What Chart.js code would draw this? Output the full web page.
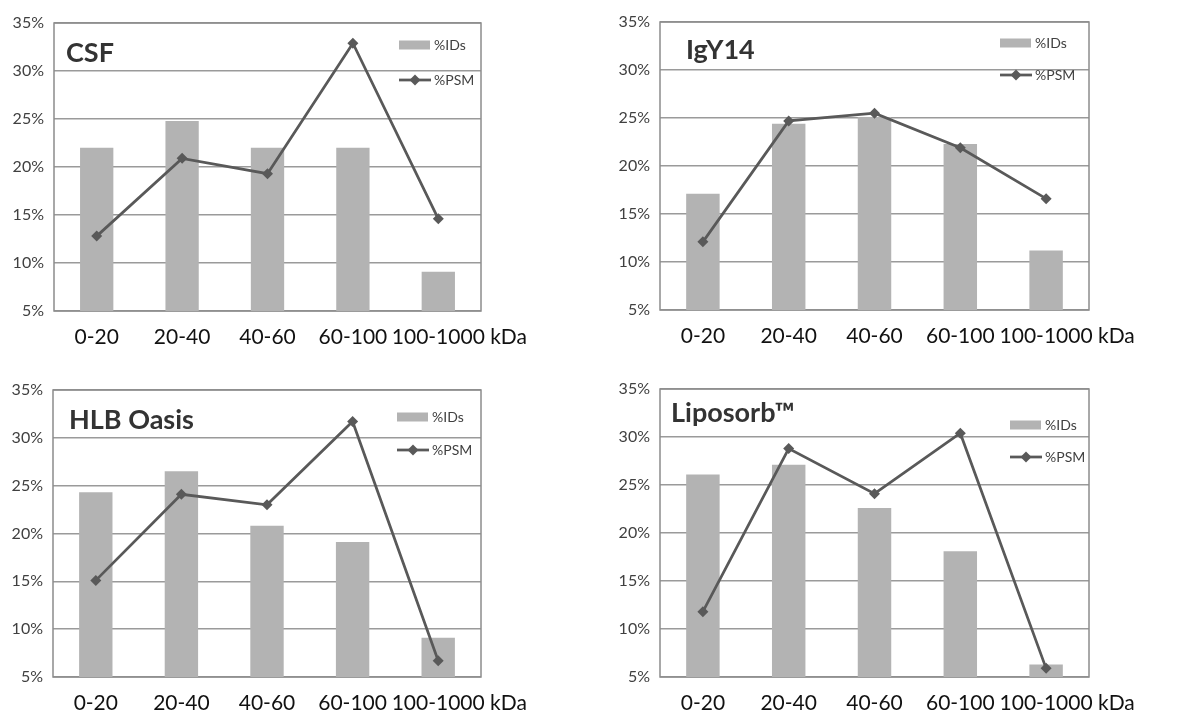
<!DOCTYPE html>
<html>
<head>
<meta charset="utf-8">
<script src="https://cdn.jsdelivr.net/npm/chart.js@4.4.1/dist/chart.umd.min.js"></script>
<style>
  html, body { margin: 0; padding: 0; background: #fff; }
  body { width: 1200px; height: 713px; position: relative; overflow: hidden; }
  .panel { position: absolute; }
</style>
</head>
<body>
<div class="panel" id="p1"><canvas id="c1"></canvas></div>
<div class="panel" id="p2"><canvas id="c2"></canvas></div>
<div class="panel" id="p3"><canvas id="c3"></canvas></div>
<div class="panel" id="p4"><canvas id="c4"></canvas></div>
<script>
// ---- data ----
const categories = ['0-20', '20-40', '40-60', '60-100', '100-1000'];
const unitLabel = 'kDa';
const seriesNames = ['%IDs', '%PSM'];
const yMin = 5, yMax = 35, yStep = 5;

const csfIDs  = [22.0, 24.8, 22.0, 22.0, 9.1];
const csfPSM  = [12.8, 20.9, 19.3, 32.9, 14.6];
const igyIDs  = [17.1, 24.4, 25.1, 22.3, 11.2];
const igyPSM  = [12.1, 24.7, 25.5, 21.9, 16.6];
const hlbIDs  = [24.3, 26.5, 20.8, 19.1, 9.1];
const hlbPSM  = [15.1, 24.1, 23.0, 31.7, 6.7];
const lipoIDs = [26.1, 27.1, 22.6, 18.1, 6.3];
const lipoPSM = [11.8, 28.8, 24.1, 30.4, 5.9];

// ---- styles ----
const barColor = '#b3b3b3';
const lineColor = '#595959';
const gridColor = '#9a9a9a';
const frameColor = '#8c8c8c';
const FONT = 'Lato, "Open Sans", sans-serif';
const Y_AXIS_W = 50;
const X_AXIS_H = 44;
const X_TICK_PAD = 14;
const X_TICK_SIZE = 21;

// panel layout: container box, target plot area, title/legend offsets
const panels = [
  { id: 'c1', box: [0, 0, 600, 356],     area: [54, 23, 481, 311],  title: 'CSF',
    ids: csfIDs, psm: csfPSM, tdx: 12, tdy: 30, ldx: -82, ly1: 22, ly2: 57 },
  { id: 'c2', box: [600, 0, 600, 356],   area: [660, 22, 1089, 310], title: 'IgY14',
    ids: igyIDs, psm: igyPSM, tdx: 26, tdy: 28, ldx: -89, ly1: 21, ly2: 53 },
  { id: 'c3', box: [0, 356, 600, 357],   area: [53, 390, 481, 677],  title: 'HLB Oasis',
    ids: hlbIDs, psm: hlbPSM, tdx: 16, tdy: 30, ldx: -84, ly1: 27, ly2: 60 },
  { id: 'c4', box: [600, 356, 600, 357], area: [660, 389, 1089, 677], title: 'Liposorb\u2122',
    ids: lipoIDs, psm: lipoPSM, tdx: 11, tdy: 24, ldx: -79, ly1: 36, ly2: 68 }
];

/* =============================== */
/* frame, title, legend, unit label */
/* =============================== */
const decorPlugin = {
  id: 'decor',
  beforeDatasetsDraw(chart) {
    const a = chart.chartArea, ctx = chart.ctx;
    ctx.save();
    ctx.strokeStyle = frameColor;
    ctx.lineWidth = 1.5;
    ctx.strokeRect(a.left, a.top, a.right - a.left, a.bottom - a.top);
    ctx.restore();
  },
  afterDraw(chart) {
    const p = chart.options.plugins.decor;
    const a = chart.chartArea, ctx = chart.ctx;
    ctx.save();
    // title
    ctx.fillStyle = '#333333';
    ctx.font = 'bold 27px ' + FONT;
    ctx.textBaseline = 'middle';
    ctx.textAlign = 'left';
    ctx.fillText(p.title, a.left + p.tdx, a.top + p.tdy);

    // legend
    const lx = a.right + p.ldx;
    const y1 = a.top + p.ly1, y2 = a.top + p.ly2;
    ctx.fillStyle = barColor;
    ctx.fillRect(lx, y1 - 4.5, 31, 9);
    ctx.strokeStyle = lineColor;
    ctx.lineWidth = 2.75;
    ctx.beginPath();
    ctx.moveTo(lx, y2);
    ctx.lineTo(lx + 32, y2);
    ctx.stroke();
    ctx.fillStyle = lineColor;
    ctx.beginPath();
    ctx.moveTo(lx + 16, y2 - 5.5);
    ctx.lineTo(lx + 21.5, y2);
    ctx.lineTo(lx + 16, y2 + 5.5);
    ctx.lineTo(lx + 10.5, y2);
    ctx.closePath();
    ctx.fill();
    ctx.fillStyle = '#404040';
    ctx.font = '14px ' + FONT;
    ctx.fillText(chart.data.datasets[0].label, lx + 35, y1);
    ctx.fillText(chart.data.datasets[1].label, lx + 35, y2);

    // unit after last category label
    const xs = chart.scales.x;
    const last = categories.length - 1;
    ctx.font = X_TICK_SIZE + 'px ' + FONT;
    ctx.fillStyle = '#111';
    const w = ctx.measureText(categories[last]).width;
    const sp = ctx.measureText(' ').width;
    const ty = xs.top + X_TICK_PAD + X_TICK_SIZE * 1.2 / 2;
    ctx.fillText(unitLabel, xs.getPixelForValue(last) + w / 2 + sp, ty);
    ctx.restore();
  }
};

panels.forEach(function (p) {
  const el = document.getElementById(p.id).parentNode;
  const [cx, cy, cw, ch] = p.box;
  const [L, T, R, B] = p.area;
  el.style.left = cx + 'px';
  el.style.top = cy + 'px';
  el.style.width = cw + 'px';
  el.style.height = ch + 'px';

  new Chart(document.getElementById(p.id), {
    type: 'bar',
    data: {
      labels: categories,
      datasets: [{
        type: 'bar',
        label: seriesNames[0],
        data: p.ids,
        backgroundColor: barColor,
        borderWidth: 0,
        barPercentage: 0.39,
        categoryPercentage: 1,
        order: 1
      }, {
        type: 'line',
        label: seriesNames[1],
        data: p.psm,
        borderColor: lineColor,
        borderWidth: 2.75,
        pointStyle: 'rectRot',
        pointRadius: 5.5,
        pointBackgroundColor: lineColor,
        pointBorderColor: lineColor,
        pointBorderWidth: 0,
        tension: 0,
        fill: false,
        order: 0
      }]
    },
    options: {
      responsive: true,
      maintainAspectRatio: false,
      animation: false,
      layout: {
        padding: {
          left: L - cx - Y_AXIS_W,
          top: T - cy,
          right: cx + cw - R,
          bottom: cy + ch - B - X_AXIS_H
        }
      },
      plugins: {
        legend: { display: false },
        tooltip: { enabled: false },
        decor: { title: p.title, tdx: p.tdx, tdy: p.tdy, ldx: p.ldx, ly1: p.ly1, ly2: p.ly2 }
      },
      scales: {
        x: {
          offset: true,
          grid: { display: false, drawTicks: false },
          border: { display: false },
          ticks: {
            padding: X_TICK_PAD,
            color: '#111',
            maxRotation: 0,
            autoSkip: false,
            font: { family: FONT, size: X_TICK_SIZE }
          },
          afterFit(scale) { scale.height = X_AXIS_H; }
        },
        y: {
          min: yMin,
          max: yMax,
          grid: { color: gridColor, lineWidth: 1.4, drawTicks: false },
          border: { display: false },
          ticks: {
            stepSize: yStep,
            padding: 10,
            color: '#404040',
            font: { family: FONT, size: 16 },
            callback: function (v) { return v + '%'; }
          },
          afterFit(scale) { scale.width = Y_AXIS_W; }
        }
      }
    },
    plugins: [decorPlugin]
  });
});
</script>
</body>
</html>
